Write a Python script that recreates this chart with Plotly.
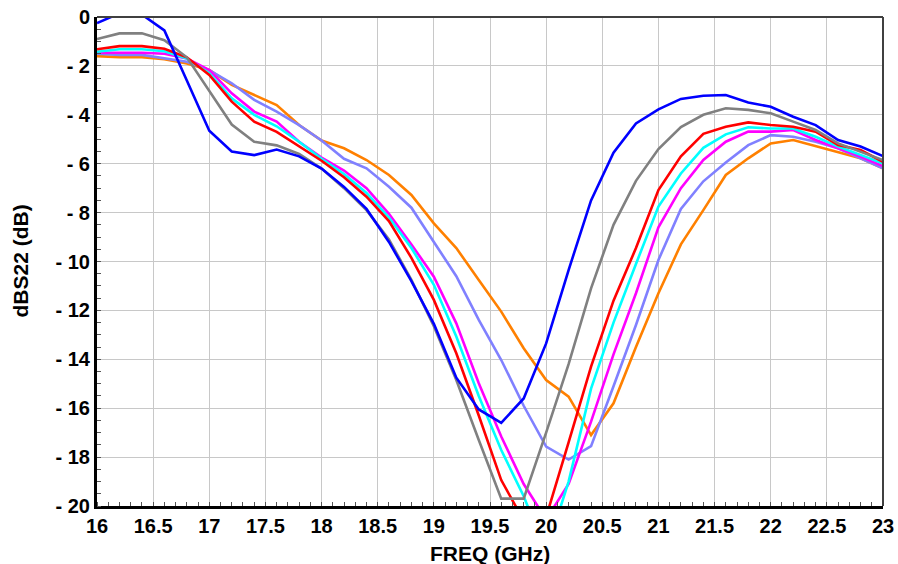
import plotly.graph_objects as go

freq = [round(16.0 + 0.2 * i, 1) for i in range(36)]

s_blue = [-0.25, 0.15, 0.1, -0.55, -2.6, -4.65,
          -5.5, -5.65, -5.42, -5.7, -6.2,
          -6.95, -7.85, -9.2, -10.8, -12.55,
          -14.75, -16.05, -16.6, -15.6, -13.35,
          -10.35, -7.5, -5.55, -4.35, -3.78,
          -3.35, -3.22, -3.19, -3.5, -3.67,
          -4.08, -4.42, -5.03, -5.3, -5.69]
s_gray = [-0.9, -0.67, -0.67, -0.95, -1.65, -3.0,
          -4.4, -5.1, -5.25, -5.6, -6.2,
          -7.0, -7.9, -9.1, -10.75, -12.65,
          -14.85, -17.3, -19.7, -19.7, -17.0,
          -14.2, -11.1, -8.5, -6.7, -5.4,
          -4.5, -4.0, -3.73, -3.8, -3.94,
          -4.28, -4.62, -5.17, -5.51, -5.85]
s_red = [-1.32, -1.19, -1.19, -1.3, -1.65, -2.37,
         -3.46, -4.28, -4.7, -5.3, -5.88,
         -6.55, -7.35, -8.35, -9.85, -11.57,
         -13.75, -16.3, -18.94, -20.6, -20.45,
         -17.4, -14.3, -11.6, -9.45, -7.08,
         -5.7, -4.78, -4.49, -4.31, -4.42,
         -4.49, -4.69, -5.24, -5.44, -5.92]
s_cyan = [-1.42, -1.32, -1.32, -1.4, -1.7, -2.3,
          -3.33, -4.0, -4.47, -5.1, -5.8,
          -6.42, -7.2, -8.2, -9.45, -10.95,
          -13.07, -15.5, -17.71, -19.6, -21.9,
          -19.0, -15.2, -12.5, -10.1, -7.75,
          -6.4, -5.35, -4.8, -4.51, -4.56,
          -4.56, -4.9, -5.3, -5.64, -5.99]
s_magenta = [-1.46, -1.46, -1.46, -1.5, -1.7, -2.17,
             -3.12, -3.87, -4.28, -5.1, -5.75,
             -6.28, -7.0, -8.05, -9.3, -10.62,
             -12.53, -14.98, -17.16, -19.1, -20.55,
             -19.1, -16.55, -13.8, -11.3, -8.6,
             -7.0, -5.85, -5.1, -4.69, -4.69,
             -4.62, -5.03, -5.37, -5.71, -6.1]
s_lavender = [-1.5, -1.55, -1.55, -1.69, -1.83, -2.17,
              -2.71, -3.39, -3.87, -4.42, -5.05,
              -5.8, -6.19, -6.94, -7.8, -9.2,
              -10.6, -12.39, -14.03, -15.9, -17.57,
              -18.1, -17.55, -15.1, -12.6, -9.94,
              -7.85, -6.72, -5.95, -5.24, -4.83,
              -4.9, -5.1, -5.37, -5.78, -6.19]
s_orange = [-1.6, -1.64, -1.64, -1.73, -1.9, -2.17,
            -2.78, -3.19, -3.6, -4.42, -5.05,
            -5.37, -5.85, -6.46, -7.28, -8.44,
            -9.45, -10.76, -12.05, -13.55, -14.85,
            -15.53, -17.1, -15.8, -13.5, -11.3,
            -9.3, -7.9, -6.46, -5.78, -5.17,
            -5.03, -5.28, -5.55, -5.78, -6.19]

x_tick_vals = [16, 16.5, 17, 17.5, 18, 18.5, 19, 19.5, 20, 20.5, 21, 21.5, 22, 22.5, 23]
x_tick_text = ["16", "16.5", "17", "17.5", "18", "18.5", "19", "19.5", "20",
               "20.5", "21", "21.5", "22", "22.5", "23"]
y_tick_vals = [0, -2, -4, -6, -8, -10, -12, -14, -16, -18, -20]
y_tick_text = ["0", "- 2", "- 4", "- 6", "- 8", "- 10", "- 12", "- 14", "- 16", "- 18", "- 20"]
x_title = "FREQ (GHz)"
y_title = "dBS22 (dB)"

series = [
    (s_orange, "#FF8000"),
    (s_lavender, "#8080FF"),
    (s_magenta, "#FF00FF"),
    (s_cyan, "#00FFFF"),
    (s_red, "#FF0000"),
    (s_gray, "#808080"),
    (s_blue, "#0000FF"),
]

fig = go.Figure()
for ys, col in series:
    fig.add_trace(go.Scatter(x=freq, y=ys, mode="lines",
                             line=dict(color=col, width=2.6),
                             showlegend=False, hoverinfo="skip"))

font_fam = "Arial, Liberation Sans, sans-serif"
fig.update_layout(
    width=898, height=564,
    margin=dict(l=97, r=15, t=17, b=58, autoexpand=False),
    paper_bgcolor="white", plot_bgcolor="white",
    font=dict(family=font_fam, color="black"),
    showlegend=False,
)
fig.update_xaxes(
    range=[16, 23], tickvals=x_tick_vals, ticktext=x_tick_text,
    tickfont=dict(size=20, weight="bold", family=font_fam),
    automargin=False,
    showgrid=True, gridcolor="#C8C8C8", gridwidth=1,
    showline=True, linecolor="black", linewidth=3,
    ticks="", ticklen=0, zeroline=False, ticklabeloverflow="allow",
    minor=dict(dtick=0.1, ticks="inside", ticklen=4, tickcolor="#555", showgrid=False),
)
fig.update_yaxes(
    range=[-20, 0], tickvals=y_tick_vals, ticktext=y_tick_text,
    tickfont=dict(size=20, weight="bold", family=font_fam),
    automargin=False,
    showgrid=True, gridcolor="#C8C8C8", gridwidth=1,
    showline=True, linecolor="black", linewidth=3,
    ticks="", ticklen=0, zeroline=False, ticklabeloverflow="allow",
    minor=dict(dtick=0.5, ticks="inside", ticklen=4, tickcolor="#555", showgrid=False),
)
fig.add_annotation(text=x_title, xref="paper", yref="paper", x=0.5, y=-47 / 489,
                   xanchor="center", yanchor="middle", showarrow=False,
                   font=dict(size=21, weight="bold", family=font_fam, color="black"))
fig.add_annotation(text=y_title, xref="paper", yref="paper", x=-77 / 786, y=0.5,
                   xanchor="center", yanchor="middle", showarrow=False, textangle=-90,
                   font=dict(size=21, weight="bold", family=font_fam, color="black"))
fig.add_shape(type="line", xref="paper", yref="paper", x0=0, x1=1, y0=1, y1=1,
              line=dict(color="#404040", width=2), layer="above")
fig.add_shape(type="line", xref="paper", yref="paper", x0=1, x1=1, y0=0, y1=1,
              line=dict(color="#404040", width=2), layer="above")

fig.write_html("out.html", config={"displayModeBar": False},
               post_script="document.body.style.margin='0';document.body.style.overflow='hidden';")
